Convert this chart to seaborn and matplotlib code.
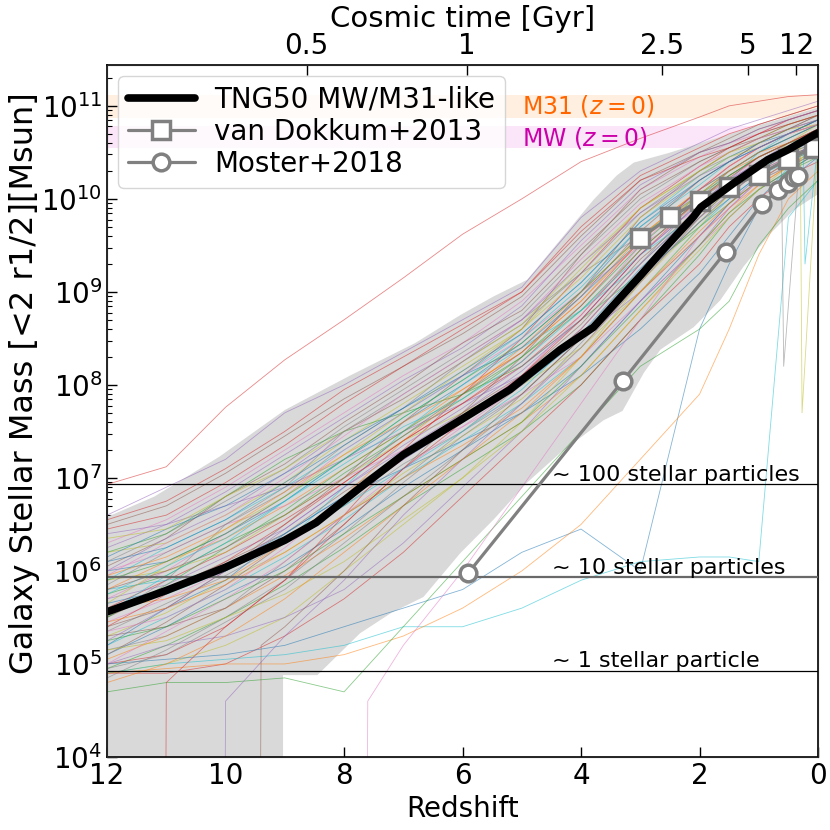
import numpy as np
import pandas as pd
import seaborn as sns
import matplotlib
matplotlib.use("Agg")
import matplotlib.pyplot as plt
from matplotlib.lines import Line2D

# redshift grid for the individual galaxy tracks (log10 Mstar)
z_grid = [12, 11, 10, 9, 8, 7, 6, 5, 4, 3, 2, 1.5, 1, 0.5, 0]
tracks = [
    [6.93, 7.12, 7.76, 8.27, 8.70, 9.15, 9.62, 10.00, 10.40, 10.65, 10.88, 11.0, 11.05, 11.1, 11.12],
    [6.6, 6.9, 7.2, 7.7, 8.0, 8.35, 8.7, 9.05, 9.8, 10.3, 10.6, 10.75, 10.85, 10.95, 11.05],
    [6.5, 6.7, 7.05, 7.45, 7.85, 8.2, 8.55, 8.95, 9.6, 10.2, 10.5, 10.65, 10.8, 10.9, 11.0],
    [6.3, 6.55, 6.9, 7.3, 7.7, 8.1, 8.45, 8.9, 9.5, 10.1, 10.45, 10.6, 10.7, 10.85, 10.95],
    [6.1, 6.4, 6.75, 7.1, 7.55, 7.95, 8.35, 8.75, 9.4, 10.0, 10.4, 10.55, 10.7, 10.8, 10.9],
    [6.2, 6.3, 6.6, 6.95, 7.4, 7.8, 8.2, 8.6, 9.25, 9.9, 10.3, 10.5, 10.65, 10.8, 10.9],
    [5.9, 6.25, 6.55, 6.9, 7.3, 7.7, 8.1, 8.55, 9.1, 9.75, 10.25, 10.45, 10.6, 10.75, 10.85],
    [6.0, 6.1, 6.4, 6.75, 7.2, 7.6, 8.0, 8.45, 9.0, 9.7, 10.2, 10.4, 10.6, 10.7, 10.85],
    [5.8, 6.1, 6.35, 6.7, 7.1, 7.5, 7.95, 8.35, 8.9, 9.6, 10.1, 10.35, 10.55, 10.7, 10.8],
    [5.75, 5.95, 6.3, 6.6, 7.05, 7.45, 7.85, 8.3, 8.85, 9.5, 10.05, 10.3, 10.5, 10.65, 10.8],
    [5.6, 5.9, 6.2, 6.55, 6.95, 7.4, 7.8, 8.2, 8.75, 9.45, 10.0, 10.25, 10.45, 10.6, 10.75],
    [5.7, 5.85, 6.15, 6.45, 6.9, 7.3, 7.7, 8.15, 8.7, 9.4, 9.95, 10.2, 10.4, 10.6, 10.7],
    [5.5, 5.8, 6.1, 6.4, 6.85, 7.25, 7.65, 8.05, 8.6, 9.3, 9.9, 10.15, 10.4, 10.55, 10.7],
    [5.45, 5.7, 6.0, 6.35, 6.75, 7.2, 7.6, 8.0, 8.55, 9.25, 9.85, 10.1, 10.35, 10.5, 10.65],
    [5.35, 5.65, 5.95, 6.3, 6.7, 7.15, 7.5, 7.9, 8.5, 9.2, 9.8, 10.1, 10.3, 10.5, 10.65],
    [5.3, 5.55, 5.9, 6.2, 6.6, 7.05, 7.45, 7.85, 8.4, 9.1, 9.75, 10.05, 10.3, 10.45, 10.6],
    [5.2, 5.5, 5.8, 6.15, 6.55, 7.0, 7.4, 7.8, 8.3, 9.0, 9.7, 10.0, 10.25, 10.4, 10.55],
    [5.1, 5.4, 5.75, 6.05, 6.45, 6.9, 7.3, 7.7, 8.2, 8.9, 9.6, 9.95, 10.2, 10.4, 10.55],
    [5.05, 5.3, 5.6, 5.95, 6.35, 6.8, 7.2, 7.6, 8.1, 8.8, 9.5, 9.85, 10.15, 10.35, 10.5],
    [4.95, 5.2, 5.5, 5.85, 6.25, 6.7, 7.1, 7.5, 8.0, 8.7, 9.4, 9.8, 10.1, 10.3, 10.45],
    [5.0, 5.1, 5.4, 5.9, 6.6, 7.3, 7.9, 8.5, 9.2, 9.9, 10.35, 10.55, 10.7, 10.85, 10.95],
    [6.4, 6.5, 6.7, 6.9, 7.2, 7.5, 7.8, 8.1, 8.5, 9.0, 9.6, 9.95, 10.25, 10.45, 10.6],
    [5.3, 5.4, 5.6, 6.0, 6.5, 7.1, 7.7, 8.3, 9.0, 9.8, 10.3, 10.5, 10.65, 10.75, 10.85],
    [6.0, 6.2, 6.5, 6.7, 7.0, 7.3, 7.55, 7.9, 8.3, 8.9, 9.5, 9.8, 10.1, 10.3, 10.5],
    [5.5, 5.9, 6.5, 6.9, 7.5, 7.9, 8.3, 8.7, 9.2, 9.6, 10.0, 10.2, 10.35, 10.5, 10.6],
    [4.9, 5.0, 5.2, 5.5, 6.0, 6.5, 7.0, 7.6, 8.3, 9.1, 9.8, 10.1, 10.35, 10.55, 10.7],
    [5.8, 5.9, 6.0, 6.3, 6.9, 7.5, 8.0, 8.4, 8.8, 9.3, 9.9, 10.2, 10.5, 10.7, 10.85],
    [5.2, 5.6, 5.9, 6.4, 6.8, 7.1, 7.4, 7.7, 8.1, 8.6, 9.2, 9.6, 10.0, 10.3, 10.5],
    [5.6, 5.7, 5.9, 6.3, 6.8, 7.4, 7.9, 8.4, 9.0, 9.6, 10.1, 10.3, 10.45, 10.6, 10.75],
    [6.2, 6.4, 6.8, 7.2, 7.5, 7.7, 7.9, 8.2, 8.7, 9.2, 9.7, 9.95, 10.2, 10.35, 10.5],
    [4.9, 4.9, 5.0, 5.3, 5.7, 6.2, 6.8, 7.4, 8.0, 8.7, 9.3, 9.7, 10.0, 10.25, 10.4],
    [5.0, 5.2, 5.3, 5.5, 5.8, 6.3, 6.9, 7.5, 8.2, 8.9, 9.5, 9.9, 10.2, 10.4, 10.6],
    [5.4, 5.6, 6.0, 6.5, 7.0, 7.6, 8.1, 8.6, 9.4, 10.1, 10.5, 10.6, 10.75, 10.85, 10.95],
    [5.7, 6.0, 6.4, 6.8, 7.3, 7.7, 8.1, 8.5, 9.0, 9.5, 9.9, 10.1, 10.3, 10.45, 10.6],
    [5.15, 5.3, 5.6, 6.1, 6.6, 7.0, 7.5, 8.0, 8.6, 9.3, 10.0, 10.3, 10.5, 10.65, 10.8],
    [5.9, 6.0, 6.2, 6.6, 7.0, 7.4, 7.7, 8.0, 8.4, 9.0, 9.7, 10.05, 10.35, 10.6, 10.8],
    [4.9, 5.0, 5.05, 5.1, 5.2, 5.4, 5.4, 5.6, 5.9, 6.1, 6.15, 6.15, 6.1, 9.8, 10.2],
    [5.0, 5.05, 5.1, 5.2, 5.4, 5.6, 5.8, 6.2, 6.45, 6.0, 8.6, 9.3, 9.9, 10.2, 10.45],
    [4.9, 4.95, 5.0, 5.0, 5.1, 5.3, 5.6, 6.0, 6.5, 7.2, 7.9, 8.6, 9.4, 10.0, 10.3],
    [4.7, 4.8, 4.8, 4.85, 4.7, 5.4, 6.1, 6.8, 7.5, 8.2, 8.6, 8.9, 9.5, 9.9, 10.2],
    [6.45, 6.6, 6.95, 7.35, 7.8, 8.2, 8.6, 9.0, 9.7, 10.25, 10.55, 10.7, 10.8, 10.9, 11.0],
    [6.25, 6.5, 6.85, 7.25, 7.65, 8.05, 8.4, 8.85, 9.55, 10.15, 10.5, 10.6, 10.75, 10.85, 10.95],
    [6.05, 6.35, 6.8, 7.15, 7.6, 8.0, 8.45, 8.8, 9.45, 10.05, 10.4, 10.55, 10.65, 10.8, 10.9],
    [5.95, 6.3, 6.6, 7.0, 7.45, 7.9, 8.3, 8.7, 9.35, 9.95, 10.35, 10.5, 10.65, 10.75, 10.85],
    [5.85, 6.2, 6.5, 6.85, 7.35, 7.75, 8.25, 8.65, 9.2, 9.85, 10.3, 10.45, 10.6, 10.75, 10.9],
    [5.65, 6.05, 6.45, 6.8, 7.25, 7.7, 8.15, 8.6, 9.15, 9.8, 10.25, 10.45, 10.55, 10.7, 10.8],
    [5.55, 5.95, 6.3, 6.75, 7.2, 7.65, 8.05, 8.5, 9.05, 9.7, 10.15, 10.4, 10.55, 10.7, 10.85],
    [6.15, 6.45, 6.7, 7.05, 7.4, 7.75, 8.1, 8.4, 8.95, 9.55, 10.1, 10.3, 10.5, 10.65, 10.8],
    [5.95, 6.15, 6.45, 6.85, 7.25, 7.6, 7.95, 8.35, 8.9, 9.55, 10.05, 10.3, 10.5, 10.6, 10.75],
    [5.5, 5.85, 6.25, 6.65, 7.1, 7.5, 7.9, 8.3, 8.8, 9.45, 10.0, 10.25, 10.45, 10.6, 10.75],
    [5.4, 5.75, 6.1, 6.5, 6.95, 7.4, 7.8, 8.25, 8.85, 9.55, 10.1, 10.35, 10.55, 10.7, 10.85],
    [5.25, 5.6, 6.0, 6.45, 6.9, 7.35, 7.75, 8.2, 8.7, 9.4, 9.95, 10.2, 10.4, 10.55, 10.7],
    [5.1, 5.45, 5.85, 6.3, 6.8, 7.25, 7.7, 8.1, 8.65, 9.35, 9.9, 10.15, 10.4, 10.55, 10.7],
    [5.0, 5.35, 5.7, 6.1, 6.6, 7.1, 7.55, 8.0, 8.6, 9.3, 9.9, 10.2, 10.45, 10.6, 10.75],
    [4.85, 5.15, 5.5, 5.9, 6.4, 6.95, 7.45, 7.9, 8.5, 9.2, 9.8, 10.1, 10.35, 10.5, 10.65],
    [6.35, 6.45, 6.8, 7.1, 7.5, 7.85, 8.25, 8.65, 9.3, 9.9, 10.3, 10.5, 10.6, 10.75, 10.8],
    [5.75, 6.05, 6.35, 6.75, 7.15, 7.55, 7.85, 8.25, 8.8, 9.4, 9.85, 10.1, 10.3, 10.5, 10.65],
    [5.65, 5.8, 6.05, 6.4, 6.8, 7.2, 7.6, 8.0, 8.5, 9.15, 9.75, 10.0, 10.25, 10.45, 10.6],
    [5.45, 5.6, 5.85, 6.2, 6.6, 7.0, 7.35, 7.75, 8.3, 9.0, 9.6, 9.9, 10.15, 10.35, 10.55],
    [5.25, 5.4, 5.7, 6.0, 6.4, 6.8, 7.2, 7.6, 8.2, 8.85, 9.5, 9.85, 10.1, 10.3, 10.5],
    [6.55, 6.75, 7.1, 7.5, 7.95, 8.3, 8.65, 9.0, 9.65, 10.2, 10.45, 10.55, 10.7, 10.8, 10.9],
    [6.0, 6.35, 6.65, 7.05, 7.5, 7.85, 8.25, 8.7, 9.3, 9.85, 10.25, 10.4, 10.55, 10.7, 10.8],
    [5.8, 6.0, 6.25, 6.6, 7.0, 7.45, 7.9, 8.35, 8.95, 9.65, 10.2, 10.4, 10.6, 10.75, 10.9],
    [5.35, 5.5, 5.8, 6.25, 6.75, 7.2, 7.65, 8.1, 8.75, 9.5, 10.1, 10.35, 10.55, 10.7, 10.8],
    [4.95, 5.1, 5.45, 5.8, 6.3, 6.8, 7.3, 7.8, 8.45, 9.15, 9.75, 10.05, 10.3, 10.5, 10.6],
    [5.15, 5.25, 5.5, 5.75, 6.1, 6.55, 7.0, 7.5, 8.1, 8.8, 9.45, 9.8, 10.1, 10.35, 10.55],
    [5.6, 5.75, 6.0, 6.35, 6.7, 7.1, 7.5, 7.95, 8.55, 9.25, 9.85, 10.15, 10.4, 10.55, 10.7],
    [6.1, 6.25, 6.55, 6.95, 7.35, 7.75, 8.15, 8.55, 9.1, 9.75, 10.2, 10.4, 10.55, 10.7, 10.85],
    [4.8, 5.0, 5.3, 5.7, 6.2, 6.7, 7.2, 7.7, 8.3, 9.0, 9.65, 9.95, 10.2, 10.4, 10.55],
    [5.9, 6.1, 6.4, 6.8, 7.2, 7.65, 8.05, 8.45, 9.0, 9.6, 10.05, 10.25, 10.45, 10.6, 10.7],
]

# tracks that appear late (zero mass before) or dip at low z
late_z = [
    [11.02, 11.0, 10, 9, 8, 7, 6, 5, 4, 3, 2, 1, 0],
    [10.02, 10.0, 9, 8, 7, 6, 5, 4, 3, 2, 1, 0],
    [9.42, 9.4, 9, 8, 7, 6, 5, 4, 3, 2, 1, 0],
    [7.62, 7.6, 7, 6, 5, 4, 3, 2, 1, 0],
    [1.0, 0.62, 0.58, 0.3, 0],
    [0.6, 0.3, 0.27, 0],
    [0.7, 0.25, 0.22, 0],
]
late_m = [
    [2.0, 4.8, 5.4, 5.9, 6.5, 7.1, 7.6, 8.1, 8.7, 9.4, 10.0, 10.45, 10.75],
    [2.0, 4.6, 5.3, 5.9, 6.6, 7.2, 7.8, 8.4, 9.1, 9.8, 10.3, 10.6],
    [2.0, 5.2, 5.4, 6.0, 6.7, 7.3, 7.9, 8.5, 9.2, 9.9, 10.4, 10.7],
    [2.0, 4.6, 5.2, 6.0, 6.9, 7.8, 8.7, 9.6, 10.2, 10.5],
    [10.3, 10.45, 8.2, 10.5, 10.6],
    [10.4, 10.55, 7.7, 10.65],
    [10.2, 10.5, 9.3, 10.6],
]

# median of TNG50 MW/M31-like
med_z = [12, 11, 10, 9, 8.47, 7.74, 7, 6.04, 5.2, 4.35, 3.79, 3.22, 2.99, 2.66, 2.1, 1.98, 1.42, 0.85, 0.5, 0.06, 0]
med_m = [5.56, 5.79, 6.04, 6.33, 6.52, 6.89, 7.25, 7.62, 7.95, 8.38, 8.62, 9.02, 9.18, 9.42, 9.81, 9.91, 10.17, 10.42, 10.53, 10.69, 10.71]

# percentile envelope
up_z = [12, 11.2, 10.1, 9.0, 7.9, 6.8, 6.04, 5.48, 4.91, 4.35, 3.79, 3.4, 3.11, 2.54, 1.98, 1.43, 0.85, 0]
up_m = [6.58, 6.80, 7.23, 7.73, 8.10, 8.45, 8.75, 8.95, 9.13, 9.56, 9.99, 10.25, 10.39, 10.49, 10.60, 10.71, 10.82, 10.98]
lo_z = [12, 9.03, 9.03, 8.45, 7.73, 7.2, 6.66, 6.04, 5.48, 4.91, 4.35, 3.62, 3.3, 2.94, 2.66, 2.1, 1.65, 1.26, 0.8, 0.41, 0]
lo_m = [4.0, 4.0, 4.88, 4.88, 5.33, 5.55, 5.72, 6.19, 6.55, 6.95, 7.27, 7.62, 7.72, 8.13, 8.38, 8.62, 8.91, 9.27, 9.63, 9.88, 10.05]

# observations
vd_z = [3.0, 2.5, 2.0, 1.5, 1.0, 0.5, 0.07]
vd_m = [9.58, 9.80, 9.98, 10.13, 10.26, 10.43, 10.55]
mo_z = [5.9, 3.3, 1.56, 0.94, 0.67, 0.51, 0.41, 0.33]
mo_m = [5.98, 8.04, 9.43, 9.95, 10.09, 10.17, 10.23, 10.25]

m_baryon = 8.5e4
m31_band = [7.4e10, 1.32e11]
mw_band = [3.5e10, 6.1e10]

time_labels = ['0.5', '1', '2.5', '5', '12']
time_ticks_z = [8.63, 5.93, 2.63, 1.19, 0.37]

rows = []
for i, m in enumerate(tracks):
    for z, v in zip(z_grid, m):
        rows.append((i, z, 10**v))
for j, (zz, mm) in enumerate(zip(late_z, late_m)):
    for z, v in zip(zz, mm):
        rows.append((len(tracks) + j, z, 10**v))
df = pd.DataFrame(rows, columns=['track', 'z', 'mstar'])

sns.set_style("ticks", {"xtick.direction": "in", "ytick.direction": "in",
                        "text.color": "black", "axes.labelcolor": "black",
                        "xtick.color": "black", "ytick.color": "black"})
plt.rcParams['font.family'] = ['DejaVu Sans']

fig = plt.figure(figsize=(8.3, 8.3), dpi=100)
ax = fig.add_axes([0.129, 0.088, 0.8566, 0.8337])

ax.axhspan(m31_band[0], m31_band[1], color='#ff7f0e', alpha=0.12, lw=0, zorder=0)
ax.axhspan(mw_band[0], mw_band[1], color='#e000c0', alpha=0.10, lw=0, zorder=0)

ax.fill(up_z + lo_z[::-1], [10**v for v in up_m + lo_m[::-1]], color='0.85', lw=0, zorder=1)

ntr = df['track'].nunique()
base = sns.color_palette('tab10')
pal = [base[(i + 3) % 10] for i in range(ntr)]
sns.lineplot(data=df, x='z', y='mstar', hue='track', units='track', estimator=None,
             palette=pal, sort=False, lw=0.6, alpha=0.55,
             legend=False, ax=ax, zorder=2)

for k, lab, col, lw in [(100, '~ 100 stellar particles', 'black', 0.9),
                        (10, '~ 10 stellar particles', 'dimgray', 1.6),
                        (1, '~ 1 stellar particle', 'black', 0.9)]:
    ax.axhline(k * m_baryon, color=col, lw=lw, zorder=3)
    ax.text(4.49, k * m_baryon * 1.25, lab, fontsize=16, va='center', ha='left', zorder=3)

ax.text(5.0, 1.0e11, 'M31 ($z = 0$)', color='#ff6600', fontsize=17, va='center', zorder=3)
ax.text(5.0, 4.55e10, 'MW ($z = 0$)', color='#cc00aa', fontsize=17, va='center', zorder=3)

ax.plot(mo_z, [10**v for v in mo_m], color='gray', lw=2.3, marker='o', ms=12,
        mfc='white', mec='gray', mew=2.5, zorder=5)
ax.plot(vd_z, [10**v for v in vd_m], color='gray', lw=2.3, marker='s', ms=13,
        mfc='white', mec='gray', mew=2.5, zorder=6)
sns.lineplot(x=med_z, y=[10**v for v in med_m], color='black', lw=5.5, sort=False,
             estimator=None, ax=ax, zorder=7)

ax.set_yscale('log')
ax.set_xlim(12, 0)
ax.set_ylim(1e4, 2.75e11)
ax.set_xticks([12, 10, 8, 6, 4, 2, 0])
ax.set_xlabel('Redshift', fontsize=20)
ax.set_ylabel('Galaxy Stellar Mass [<2 r1/2][Msun]', fontsize=23)
ax.yaxis.set_label_coords(-0.095, 0.54)
ax.tick_params(axis='both', which='major', labelsize=20, length=7, width=1, top=False, right=False)
ax.tick_params(axis='y', which='minor', length=3.5, width=0.8, right=False)
for s in ax.spines.values():
    s.set_visible(True)
    s.set_color('black')
    s.set_linewidth(1.2)

ax2 = ax.twiny()
ax2.set_xlim(ax.get_xlim())
ax2.set_xticks(time_ticks_z)
ax2.set_xticklabels(time_labels)
ax2.tick_params(axis='x', labelsize=20, length=7, width=1, direction='in')
ax2.set_xlabel('Cosmic time [Gyr]', fontsize=21)

handles = [
    Line2D([], [], color='black', lw=5.5),
    Line2D([], [], color='gray', lw=2.3, marker='s', ms=13, mfc='white', mec='gray', mew=2.5),
    Line2D([], [], color='gray', lw=2.3, marker='o', ms=12, mfc='white', mec='gray', mew=2.5),
]
ax.legend(handles, ['TNG50 MW/M31-like', 'van Dokkum+2013', 'Moster+2018'],
          loc='upper left', fontsize=20, handlelength=2.4, handletextpad=0.7,
          labelspacing=0.15, borderaxespad=0.4, framealpha=0.8, borderpad=0.35)

fig.savefig('out.png', dpi=100)
